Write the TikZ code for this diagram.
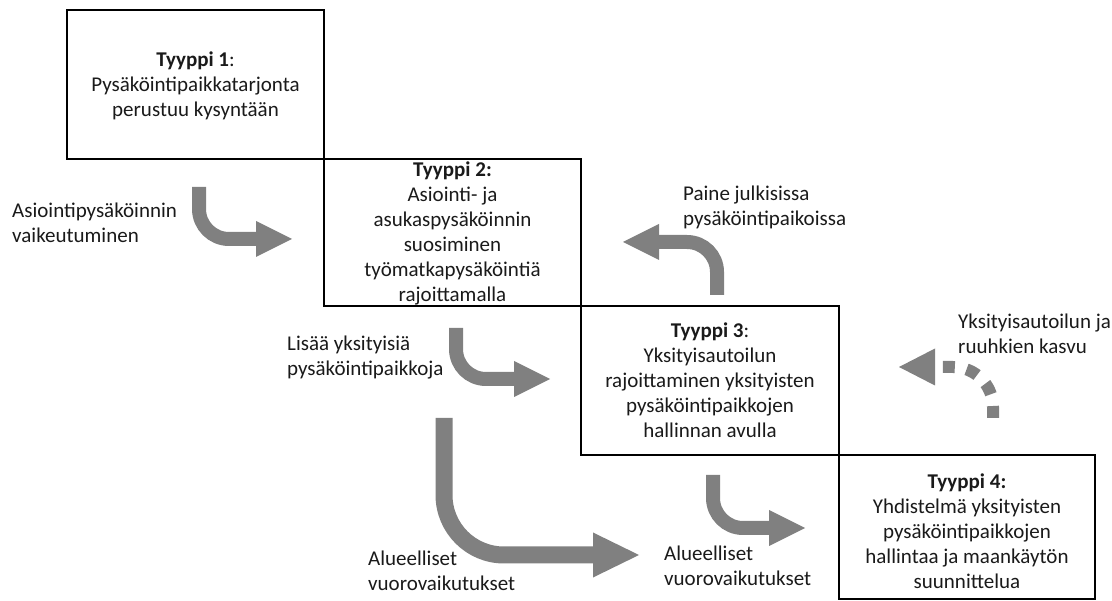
\documentclass[tikz,border=0pt]{standalone}
\usepackage{fontspec}
\setmainfont{Carlito}
\usetikzlibrary{arrows.meta}
\definecolor{arrowgrey}{HTML}{808080}
\definecolor{txt}{HTML}{1A1A1A}
\begin{document}
\begin{tikzpicture}[x=1pt,y=-1pt,
  frame/.style={draw=black, line width=2.8pt, inner sep=0pt, outer sep=0pt, minimum width=257pt},
  boxtext/.style={align=center, inner sep=0pt, text=txt, font=\fontsize{21}{25}\selectfont},
  lab/.style={align=left, anchor=west, inner sep=0pt, text=txt, font=\fontsize{21}{25}\selectfont},
  bigarrow/.style={draw=arrowgrey, line width=14pt, rounded corners=30pt,
    -{Triangle[width=36pt,length=36pt,line width=0pt]}},
  hugearrow/.style={draw=arrowgrey, line width=17pt, rounded corners=60pt,
    -{Triangle[width=45pt,length=46pt,line width=0pt]}},
  dotarrow/.style={draw=arrowgrey, line width=12pt, rounded corners=40pt, dash pattern=on 12pt off 12pt,
    -{Triangle[width=37pt,length=36pt,line width=0pt]}}
]
\useasboundingbox (0,0) rectangle (1112,601);
\fill[white] (0,0) rectangle (1112,601);

% boxes
\node[frame, minimum height=149pt] (b1) at (195.5,84.5) {};
\node[frame, minimum height=147pt] (b2) at (452.5,232.5) {};
\node[frame, minimum height=149pt, minimum width=258pt] (b3) at (710,380.5) {};
\node[frame, minimum height=144pt, minimum width=256pt] (b4) at (967,527) {};

\node[boxtext] (t1) at ([yshift=-1.5pt]b1.center) {\textbf{Tyyppi 1}:\\Pysäköintipaikkatarjonta\\perustuu kysyntään};
\node[boxtext] (t2) at ([yshift=-1pt]b2.center) {\textbf{Tyyppi 2:}\\Asiointi- ja\\asukaspysäköinnin\\suosiminen\\työmatkapysäköintiä\\rajoittamalla};
\node[boxtext] (t3) at (b3.center) {\textbf{Tyyppi 3}:\\Yksityisautoilun\\rajoittaminen yksityisten\\pysäköintipaikkojen\\hallinnan avulla};
\node[boxtext] (t4) at ([yshift=-4pt]b4.center) {\textbf{Tyyppi 4:}\\Yhdistelmä yksityisten\\pysäköintipaikkojen\\hallintaa ja maankäytön\\suunnittelua};

% labels
\node[lab] (lA) at (12,222.5) {Asiointipysäköinnin\\vaikeutuminen};
\node[lab] (lB) at (683,207.5) {Paine julkisissa\\pysäköintipaikoissa};
\node[lab] (lC) at (287,357.5) {Lisää yksityisiä\\pysäköintipaikkoja};
\node[lab] (lD) at (368,570.5) {Alueelliset\\vuorovaikutukset};
\node[lab] (lE) at (664,565.5) {Alueelliset\\vuorovaikutukset};
\node[lab] (lF) at (958,334) {Yksityisautoilun ja\\ruuhkien kasvu};

% arrow coordinates
\coordinate (aS) at (199,187); \coordinate (aC) at (199,239); \coordinate (aE) at (292,239);
\coordinate (bS) at (717,295); \coordinate (bC) at (717,242); \coordinate (bE) at (623,242);
\coordinate (cS) at (456,328); \coordinate (cC) at (456,379); \coordinate (cE) at (550,379);
\coordinate (dS) at (444,418); \coordinate (dC) at (444,555); \coordinate (dE) at (639,555);
\coordinate (eS) at (713,475); \coordinate (eC) at (713,528); \coordinate (eE) at (805,528);
\coordinate (fS) at (993,418); \coordinate (fC) at (993,367); \coordinate (fE) at (899,367);

\draw[bigarrow] (aS) -- (aC) -- (aE);
\draw[bigarrow] (bS) -- (bC) -- (bE);
\draw[bigarrow] (cS) -- (cC) -- (cE);
\draw[hugearrow] (dS) -- (dC) -- (dE);
\draw[bigarrow] (eS) -- (eC) -- (eE);
\draw[dotarrow] (fS) -- (fC) -- (fE);
\end{tikzpicture}
\end{document}
